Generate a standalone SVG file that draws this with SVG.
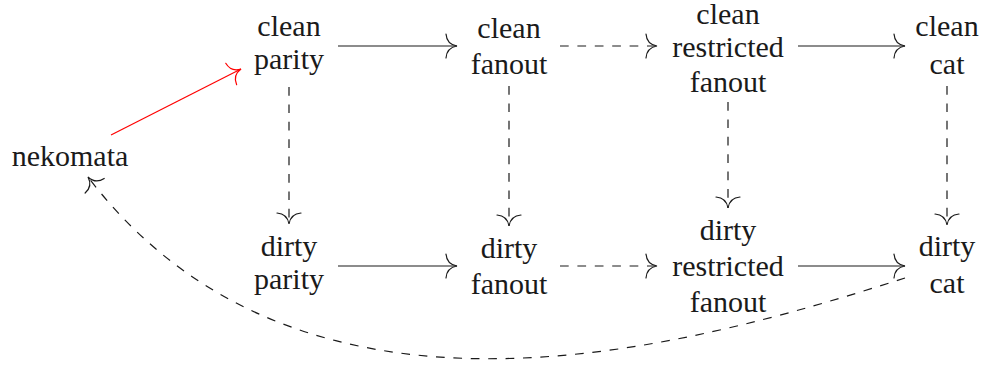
<svg xmlns="http://www.w3.org/2000/svg" width="984" height="366" viewBox="0 0 984 366">
<defs>
  <marker id="ah" markerUnits="userSpaceOnUse" viewBox="-14 -14 16 28" refX="0" refY="0" markerWidth="16" markerHeight="28" orient="auto" overflow="visible">
    <path d="M -11 -12 C -10.5 -5, -6 -1, 0 0 C -6 1, -10.5 5, -11 12" fill="none" stroke="#1a1a1a" stroke-width="1.2" stroke-linecap="round"/>
  </marker>
  <marker id="ahr" markerUnits="userSpaceOnUse" viewBox="-14 -14 16 28" refX="0" refY="0" markerWidth="16" markerHeight="28" orient="auto" overflow="visible">
    <path d="M -11 -12 C -10.5 -5, -6 -1, 0 0 C -6 1, -10.5 5, -11 12" fill="none" stroke="#ff0000" stroke-width="1.2" stroke-linecap="round"/>
  </marker>
</defs>

<g font-family="Liberation Serif" font-size="30" fill="#1a1a1a" text-anchor="middle">
<g id="nekomata"><text x="70" y="166">nekomata</text></g>
<g id="clean-parity"><text x="289" y="36">clean</text><text x="289" y="69">parity</text></g>
<g id="clean-fanout"><text x="509" y="38">clean</text><text x="509" y="74">fanout</text></g>
<g id="clean-restricted-fanout"><text x="728" y="24">clean</text><text x="728" y="57">restricted</text><text x="728" y="92">fanout</text></g>
<g id="clean-cat"><text x="947" y="36">clean</text><text x="947" y="74">cat</text></g>
<g id="dirty-parity"><text x="289" y="256">dirty</text><text x="289" y="289">parity</text></g>
<g id="dirty-fanout"><text x="509" y="258">dirty</text><text x="509" y="294">fanout</text></g>
<g id="dirty-restricted-fanout"><text x="728" y="240">dirty</text><text x="728" y="276">restricted</text><text x="728" y="312">fanout</text></g>
<g id="dirty-cat"><text x="947" y="256">dirty</text><text x="947" y="293">cat</text></g>
</g>

<g id="connectors" fill="none" stroke="#1a1a1a" stroke-width="1.2" marker-end="url(#ah)">
  <path d="M 111 135 L 241 69" stroke="#ff0000" marker-end="url(#ahr)"/>
  <path d="M 338 46 L 457 46"/>
  <path d="M 560 46 L 657 46" stroke-dasharray="8.7 8.7"/>
  <path d="M 798 46 L 905 46"/>
  <path d="M 338 266 L 457 266"/>
  <path d="M 560 266 L 657 266" stroke-dasharray="8.7 8.7"/>
  <path d="M 798 266 L 905 266"/>
  <path d="M 289 87 L 289 224" stroke-dasharray="8.7 8.7"/>
  <path d="M 509 86 L 509 226" stroke-dasharray="8.7 8.7"/>
  <path d="M 728 102 L 728 208" stroke-dasharray="8.7 8.7"/>
  <path d="M 947 86 L 947 225" stroke-dasharray="8.7 8.7"/>
  <path d="M 905 278 C 680 350, 300 455, 88 177" stroke-dasharray="8.7 8.7"/>
</g>
</svg>
